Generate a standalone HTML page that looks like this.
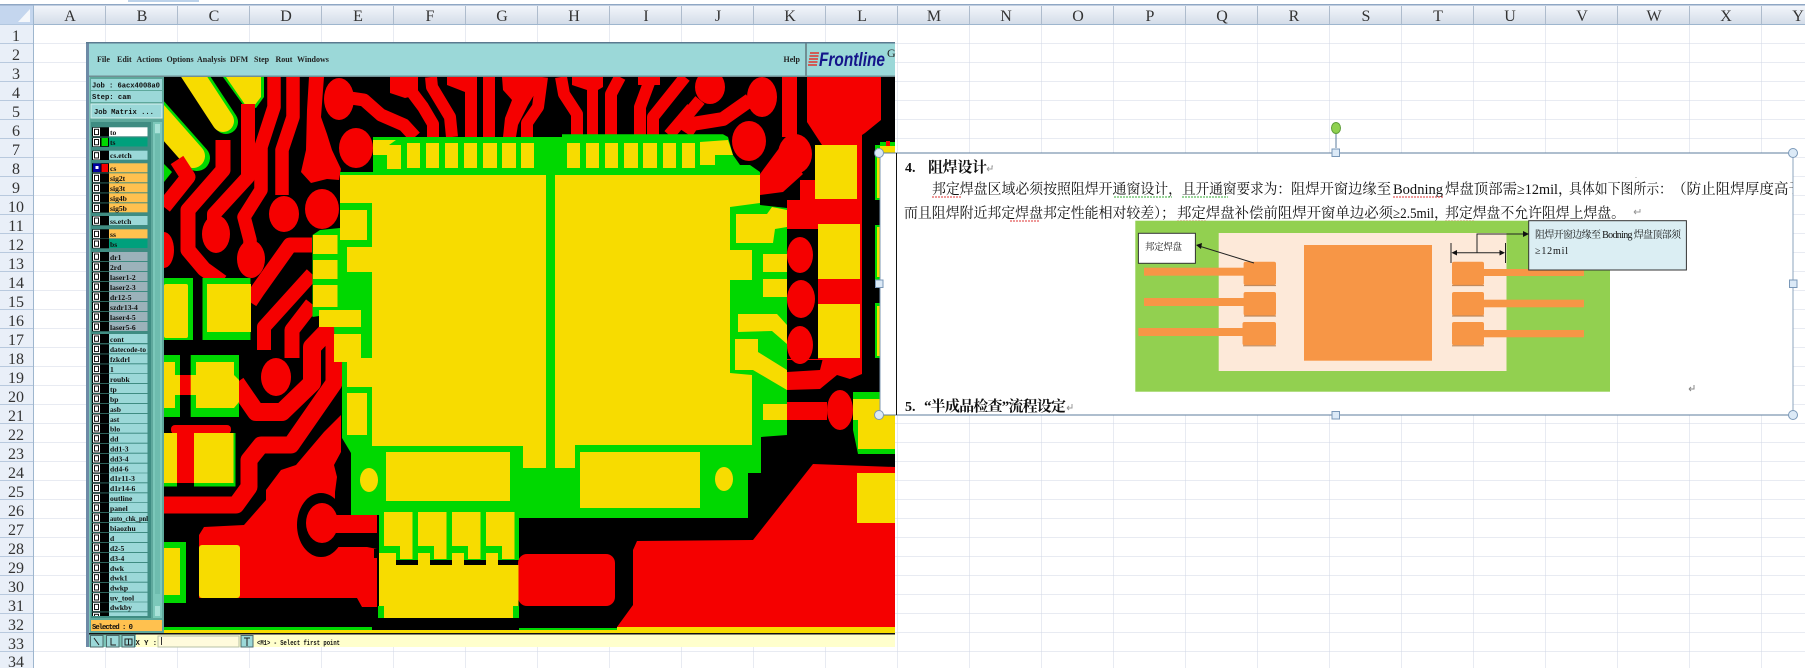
<!DOCTYPE html>
<html><head><meta charset="utf-8"><title>PCB</title>
<style>
html,body{margin:0;padding:0;background:#fff;width:1805px;height:668px;overflow:hidden}
svg{display:block}
.h{font:16px "Liberation Serif",serif;fill:#333;text-anchor:middle}
.m{font:bold 8px "Liberation Serif",serif;fill:#222}
.l{font:bold 7.6px "Liberation Serif",serif;fill:#111}
.j{font:bold 7.2px "Liberation Mono",monospace;fill:#111}
.cn{font-family:"Liberation Serif","Noto Serif CJK SC",serif;fill:#111}
.r path{fill:none;stroke:#f50000;stroke-linejoin:round;stroke-linecap:butt}
.a{fill:#9bd8d8}.o{fill:#ffc14f}.g{fill:#9cb2ba}.t{fill:#00a07c}.w{fill:#fff}
</style></head><body>
<svg width="1805" height="668" viewBox="0 0 1805 668" xmlns="http://www.w3.org/2000/svg">
<defs>
<linearGradient id="hd" x1="0" y1="0" x2="0" y2="1"><stop offset="0" stop-color="#f3f6fb"/><stop offset="1" stop-color="#d3dce8"/></linearGradient>
<pattern id="gr" x="33.5" y="24.5" width="72" height="19" patternUnits="userSpaceOnUse"><path d="M72 0V19M0 19H72" stroke="#d0d7e5" stroke-width="1" fill="none"/></pattern>
<clipPath id="bd"><rect x="164" y="77" width="731" height="557"/></clipPath>
<clipPath id="ls"><rect x="90" y="125" width="60" height="491"/></clipPath>
<clipPath id="tb"><rect x="880" y="153" width="913" height="262"/></clipPath>
<g id="c"><rect x="92" y="0" width="17" height="9.3" fill="#000"/><rect x="93" y="0.5" width="7" height="8.3" fill="#fff"/><rect x="94.5" y="2" width="4" height="5.3" fill="#fff" stroke="#111" stroke-width="1"/></g>
</defs>
<!-- sheet -->
<rect width="1805" height="668" fill="#fff"/>
<rect x="33.5" y="24.5" width="1772" height="644" fill="url(#gr)"/>
<rect width="1805" height="5" fill="#fff"/>
<rect x="128" y="0" width="71" height="2" fill="#bcd2ea"/>
<rect y="4" width="1805" height="1.5" fill="#8fa7c4"/>
<rect x="0" y="5.5" width="1805" height="19" fill="url(#hd)"/>
<rect x="0" y="24" width="1805" height="1" fill="#9eb6ce"/>
<rect x="0" y="5.5" width="33.5" height="19" fill="#c4d6ee"/>
<polygon points="30,9 30,22 18,22" fill="#f4f7fb"/>
<rect x="0" y="25" width="33.5" height="643" fill="#e9eff8"/>
<rect x="33" y="5" width="1" height="663" fill="#9eb6ce"/>
<path d="M105.5 6V24M177.5 6V24M249.5 6V24M321.5 6V24M393.5 6V24M465.5 6V24M537.5 6V24M609.5 6V24M681.5 6V24M753.5 6V24M825.5 6V24M897.5 6V24M969.5 6V24M1041.5 6V24M1113.5 6V24M1185.5 6V24M1257.5 6V24M1329.5 6V24M1401.5 6V24M1473.5 6V24M1545.5 6V24M1617.5 6V24M1689.5 6V24M1761.5 6V24" stroke="#aebccd"/>
<path d="M0 43.5H33M0 62.5H33M0 81.5H33M0 100.5H33M0 119.5H33M0 138.5H33M0 157.5H33M0 176.5H33M0 195.5H33M0 214.5H33M0 233.5H33M0 252.5H33M0 271.5H33M0 290.5H33M0 309.5H33M0 328.5H33M0 347.5H33M0 366.5H33M0 385.5H33M0 404.5H33M0 423.5H33M0 442.5H33M0 461.5H33M0 480.5H33M0 499.5H33M0 518.5H33M0 537.5H33M0 556.5H33M0 575.5H33M0 594.5H33M0 613.5H33M0 632.5H33M0 651.5H33" stroke="#b8c9de"/>
<g class="h">
<text x="70" y="21">A</text><text x="142" y="21">B</text><text x="214" y="21">C</text><text x="286" y="21">D</text><text x="358" y="21">E</text><text x="430" y="21">F</text><text x="502" y="21">G</text><text x="574" y="21">H</text><text x="646" y="21">I</text><text x="718" y="21">J</text><text x="790" y="21">K</text><text x="862" y="21">L</text><text x="934" y="21">M</text><text x="1006" y="21">N</text><text x="1078" y="21">O</text><text x="1150" y="21">P</text><text x="1222" y="21">Q</text><text x="1294" y="21">R</text><text x="1366" y="21">S</text><text x="1438" y="21">T</text><text x="1510" y="21">U</text><text x="1582" y="21">V</text><text x="1654" y="21">W</text><text x="1726" y="21">X</text><text x="1798" y="21">Y</text>
<text x="16" y="41">1</text><text x="16" y="60">2</text><text x="16" y="79">3</text><text x="16" y="98">4</text><text x="16" y="117">5</text><text x="16" y="136">6</text><text x="16" y="155">7</text><text x="16" y="174">8</text><text x="16" y="193">9</text><text x="16" y="212">10</text><text x="16" y="231">11</text><text x="16" y="250">12</text><text x="16" y="269">13</text><text x="16" y="288">14</text><text x="16" y="307">15</text><text x="16" y="326">16</text><text x="16" y="345">17</text><text x="16" y="364">18</text><text x="16" y="383">19</text><text x="16" y="402">20</text><text x="16" y="421">21</text><text x="16" y="440">22</text><text x="16" y="459">23</text><text x="16" y="478">24</text><text x="16" y="497">25</text><text x="16" y="516">26</text><text x="16" y="535">27</text><text x="16" y="554">28</text><text x="16" y="573">29</text><text x="16" y="592">30</text><text x="16" y="611">31</text><text x="16" y="630">32</text><text x="16" y="649">33</text><text x="16" y="667">34</text>
</g>
<!-- window frame -->
<rect x="86" y="42" width="809" height="605" fill="#6d8aa6"/>
<rect x="89" y="43" width="806" height="604" fill="#7cc4b8"/>
<rect x="89" y="43" width="716" height="33" fill="#9bd8d8"/>
<rect x="805" y="43" width="2" height="33" fill="#6f8f93"/>
<rect x="807" y="43" width="88" height="33" fill="#9bd8d8"/>
<rect x="89" y="75.5" width="806" height="1.5" fill="#6f8f93"/>
<rect x="86" y="42" width="809" height="1.5" fill="#5b7a90"/>
<g class="m">
<text x="97" y="62">File</text><text x="117" y="62">Edit</text><text x="136.5" y="62">Actions</text><text x="166.5" y="62">Options</text><text x="197" y="62">Analysis</text><text x="230" y="62">DFM</text><text x="254" y="62">Step</text><text x="275.5" y="62">Rout</text><text x="297" y="62">Windows</text><text x="783.5" y="62">Help</text>
</g>
<path d="M810 53h9M809.5 56h9M809 59h9M808.5 62h9M808 65h9" stroke="#e2332b" stroke-width="1.6"/>
<text x="819" y="66" font-family="Liberation Sans,sans-serif" font-weight="bold" font-style="italic" font-size="19" fill="#14148a" textLength="66" lengthAdjust="spacingAndGlyphs">Frontline</text>
<text x="887" y="57" font-family="Liberation Serif,serif" font-size="12" fill="#222">G</text>
<!-- left panel -->
<rect x="90" y="77" width="74" height="543" fill="#5ea89c"/>
<rect x="91" y="79" width="71" height="11" class="a"/><rect x="91" y="91" width="71" height="11" class="a"/><rect x="91" y="104" width="71" height="14" class="a" stroke="#d5efee" stroke-width="1"/>
<text x="92" y="87.5" class="j" textLength="68">Job : 6acx4008a0</text>
<text x="92" y="99" class="j">Step: cam</text>
<text x="94" y="114" class="j" font-size="8" textLength="60">Job Matrix ...</text>
<rect x="91" y="122" width="60" height="496" fill="#3f8c82"/>
<rect x="153" y="122" width="9" height="496" fill="#7cc8ba"/>
<rect x="155" y="124" width="5" height="9" fill="#a9e2d8"/><rect x="155" y="606" width="5" height="10" fill="#a9e2d8"/><rect x="155" y="134" width="5" height="460" fill="#6ebcae"/>
<g clip-path="url(#ls)">
<use href="#c" y="127.3"/><rect x="109" y="127.3" width="38.5" height="9" class="w"/><text x="110" y="135" class="l">to</text>
<use href="#c" y="137.5"/><rect x="109" y="137.5" width="38.5" height="9" class="t"/><rect x="101.5" y="138" width="6.5" height="8" fill="#00d800"/><text x="110" y="145" class="l">ts</text>
<use href="#c" y="150.7"/><rect x="109" y="150.7" width="38.5" height="9" class="a"/><text x="110" y="158" class="l">cs.etch</text>
<use href="#c" y="163.3"/><rect x="109" y="163.3" width="38.5" height="9" class="o"/><rect x="93" y="163.5" width="7.5" height="8.5" fill="#0000a0"/><rect x="95.5" y="166" width="3" height="3" fill="#fff"/><rect x="101.5" y="164" width="6.5" height="8" fill="#f50000"/><text x="110" y="171" class="l">cs</text>
<use href="#c" y="173.3"/><rect x="109" y="173.3" width="38.5" height="9" class="o"/><text x="110" y="181" class="l">sig2t</text>
<use href="#c" y="183.3"/><rect x="109" y="183.3" width="38.5" height="9" class="o"/><text x="110" y="191" class="l">sig3t</text>
<use href="#c" y="193.3"/><rect x="109" y="193.3" width="38.5" height="9" class="o"/><text x="110" y="201" class="l">sig4b</text>
<use href="#c" y="203.3"/><rect x="109" y="203.3" width="38.5" height="9" class="o"/><text x="110" y="211" class="l">sig5b</text>
<use href="#c" y="216"/><rect x="109" y="216" width="38.5" height="9" class="a"/><text x="110" y="224" class="l">ss.etch</text>
<use href="#c" y="229.3"/><rect x="109" y="229.3" width="38.5" height="9" class="o"/><text x="110" y="237" class="l">ss</text>
<use href="#c" y="239"/><rect x="109" y="239" width="38.5" height="9" class="t"/><text x="110" y="247" class="l">bs</text>
<use href="#c" y="252"/><rect x="109" y="252" width="38.5" height="9" class="g"/><text x="110" y="260" class="l">dr1</text>
<use href="#c" y="262"/><rect x="109" y="262" width="38.5" height="9" class="g"/><text x="110" y="270" class="l">2rd</text>
<use href="#c" y="272"/><rect x="109" y="272" width="38.5" height="9" class="g"/><text x="110" y="280" class="l">laser1-2</text>
<use href="#c" y="282"/><rect x="109" y="282" width="38.5" height="9" class="g"/><text x="110" y="290" class="l">laser2-3</text>
<use href="#c" y="292"/><rect x="109" y="292" width="38.5" height="9" class="g"/><text x="110" y="300" class="l">dr12-5</text>
<use href="#c" y="302"/><rect x="109" y="302" width="38.5" height="9" class="g"/><text x="110" y="310" class="l">szdr13-4</text>
<use href="#c" y="312"/><rect x="109" y="312" width="38.5" height="9" class="g"/><text x="110" y="320" class="l">laser4-5</text>
<use href="#c" y="322"/><rect x="109" y="322" width="38.5" height="9" class="g"/><text x="110" y="330" class="l">laser5-6</text>
<use href="#c" y="334"/><rect x="109" y="334" width="38.5" height="9" class="a"/><text x="110" y="342" class="l">cont</text>
<use href="#c" y="344.3"/><rect x="109" y="344.3" width="38.5" height="9" class="a"/><text x="110" y="352" class="l" textLength="36" lengthAdjust="spacingAndGlyphs">datecode-to</text>
<use href="#c" y="354.3"/><rect x="109" y="354.3" width="38.5" height="9" class="a"/><text x="110" y="362" class="l">fzkdrl</text>
<use href="#c" y="364.3"/><rect x="109" y="364.3" width="38.5" height="9" class="a"/><text x="110" y="372" class="l">1</text>
<use href="#c" y="374"/><rect x="109" y="374" width="38.5" height="9" class="a"/><text x="110" y="382" class="l">roubk</text>
<use href="#c" y="384"/><rect x="109" y="384" width="38.5" height="9" class="a"/><text x="110" y="392" class="l">tp</text>
<use href="#c" y="394"/><rect x="109" y="394" width="38.5" height="9" class="a"/><text x="110" y="402" class="l">bp</text>
<use href="#c" y="404"/><rect x="109" y="404" width="38.5" height="9" class="a"/><text x="110" y="412" class="l">asb</text>
<use href="#c" y="414"/><rect x="109" y="414" width="38.5" height="9" class="a"/><text x="110" y="422" class="l">ast</text>
<use href="#c" y="423.7"/><rect x="109" y="423.7" width="38.5" height="9" class="a"/><text x="110" y="431.5" class="l">blo</text>
<use href="#c" y="433.7"/><rect x="109" y="433.7" width="38.5" height="9" class="a"/><text x="110" y="441.5" class="l">dd</text>
<use href="#c" y="443.7"/><rect x="109" y="443.7" width="38.5" height="9" class="a"/><text x="110" y="451.5" class="l">dd1-3</text>
<use href="#c" y="453.7"/><rect x="109" y="453.7" width="38.5" height="9" class="a"/><text x="110" y="461.5" class="l">dd3-4</text>
<use href="#c" y="463.7"/><rect x="109" y="463.7" width="38.5" height="9" class="a"/><text x="110" y="471.5" class="l">dd4-6</text>
<use href="#c" y="473.3"/><rect x="109" y="473.3" width="38.5" height="9" class="a"/><text x="110" y="481" class="l">d1r11-3</text>
<use href="#c" y="483.3"/><rect x="109" y="483.3" width="38.5" height="9" class="a"/><text x="110" y="491" class="l">d1r14-6</text>
<use href="#c" y="493.3"/><rect x="109" y="493.3" width="38.5" height="9" class="a"/><text x="110" y="501" class="l">outline</text>
<use href="#c" y="503"/><rect x="109" y="503" width="38.5" height="9" class="a"/><text x="110" y="511" class="l">panel</text>
<use href="#c" y="513"/><rect x="109" y="513" width="38.5" height="9" class="a"/><text x="110" y="521" class="l" textLength="38" lengthAdjust="spacingAndGlyphs">auto_chk_pnl</text>
<use href="#c" y="523"/><rect x="109" y="523" width="38.5" height="9" class="a"/><text x="110" y="531" class="l">biaozhu</text>
<use href="#c" y="533"/><rect x="109" y="533" width="38.5" height="9" class="a"/><text x="110" y="541" class="l">d</text>
<use href="#c" y="543"/><rect x="109" y="543" width="38.5" height="9" class="a"/><text x="110" y="551" class="l">d2-5</text>
<use href="#c" y="553"/><rect x="109" y="553" width="38.5" height="9" class="a"/><text x="110" y="561" class="l">d3-4</text>
<use href="#c" y="563"/><rect x="109" y="563" width="38.5" height="9" class="a"/><text x="110" y="571" class="l">dwk</text>
<use href="#c" y="572.7"/><rect x="109" y="572.7" width="38.5" height="9" class="a"/><text x="110" y="580.5" class="l">dwk1</text>
<use href="#c" y="582.7"/><rect x="109" y="582.7" width="38.5" height="9" class="a"/><text x="110" y="590.5" class="l">dwkp</text>
<use href="#c" y="592.7"/><rect x="109" y="592.7" width="38.5" height="9" class="a"/><text x="110" y="600.5" class="l">uv_tool</text>
<use href="#c" y="602.3"/><rect x="109" y="602.3" width="38.5" height="9" class="a"/><text x="110" y="610" class="l">dwkby</text>
<use href="#c" y="612.3"/><rect x="109" y="612.3" width="38.5" height="9" class="a"/>
</g>
<rect x="90" y="618" width="74" height="16" fill="#5ea89c"/>
<rect x="91" y="620" width="71" height="11" class="o"/>
<text x="92" y="629" class="j" textLength="41">Selected : 0</text>
<!-- board -->
<g clip-path="url(#bd)">
<rect x="164" y="77" width="731" height="557" fill="#000"/>
<!-- top-left pills -->
<g fill="none" stroke-linecap="round">
<path d="M193 72L226 122" stroke="#00d800" stroke-width="24"/>
<path d="M191 72L223 121" stroke="#f7dc00" stroke-width="22"/>
<path d="M150 105L197 158" stroke="#00d800" stroke-width="26"/>
<path d="M148 105L193 156" stroke="#f7dc00" stroke-width="24"/>
</g>
<polygon points="223,77 264,77 264,97 256,108 244,106" fill="#00d800"/>
<polygon points="226,77 261,77 261,97 254,106 246,106" fill="#f7dc00"/>
<polygon points="164,164 172,172 164,182" fill="#00d800"/>
<!-- red traces -->
<g class="r">
<path d="M177 160L188 177L164 207" stroke-width="15"/>
<path d="M223 140V170L188 210V250L204 269L222 282" stroke-width="15"/>
<path d="M248 104V177L214 214V232" stroke-width="14"/>
<path d="M274 77V107L261 147V190L244 217L250 240V255" stroke-width="13.5"/>
<path d="M293 77V117L282 150V195" stroke-width="13.5"/>
<path d="M344 97L364 100L381 115L404 125L415 137" stroke-width="13"/>
<path d="M312 245H290L258 290L250 302" stroke-width="15"/>
<path d="M312 274L264 327V350" stroke-width="14"/>
<path d="M312 304L292 330V358" stroke-width="15"/>
<path d="M334 324L312 347V383L282 412H256L236 383" stroke-width="18"/>
<path d="M334 335V383L291 445H261L249 460V487L236 505H164" stroke-width="17"/>
<path d="M408 87L423 107L433 124V137" stroke-width="12"/>
<path d="M431 77L432 87L450 117L452 137" stroke-width="12"/>
<path d="M489 77V137" stroke-width="12"/>
<path d="M542 77L538 107L527 123V137" stroke-width="12"/>
<path d="M561 77L564 94L577 114V135" stroke-width="12"/>
<path d="M620 77L611 94V135" stroke-width="12"/>
<path d="M650 80L640 107V135" stroke-width="12"/>
<path d="M685 77L653 117V135" stroke-width="12"/>
<path d="M692 108L669 135" stroke-width="12"/>
<path d="M700 100L680 124" stroke-width="12"/>
<path d="M686 133L692 124L723 119L750 100" stroke-width="14"/>
</g>
<g fill="#f50000">
<polygon points="309,77 324,77 321,117 327,134 332,150 341,169 339,180 327,179 311,183 301,172 306,150 307,110"/>
<polygon points="390,77 418,77 418,95 405,98 390,93"/>
<polygon points="447,77 477,77 477,137 465,137 465,92 447,85"/>
<polygon points="502,77 538,77 537,90 528,105 518,125 516,137 503,137 505,118 512,100 503,90"/>
<polygon points="572,77 603,77 603,87 598,90 598,135 587,135 587,90 572,85"/>
<rect x="638" y="77" width="22" height="8"/>
<ellipse cx="339" cy="99" rx="15" ry="21"/><ellipse cx="356" cy="148" rx="17" ry="20"/>
<ellipse cx="322" cy="209" rx="17" ry="20"/><ellipse cx="164" cy="250" rx="10" ry="18"/>
<ellipse cx="216" cy="234" rx="14" ry="19"/><ellipse cx="251" cy="259" rx="14" ry="19"/><ellipse cx="284" cy="214" rx="15" ry="18"/>
<ellipse cx="276" cy="377" rx="15" ry="19"/>
<ellipse cx="710" cy="87" rx="15" ry="17"/><ellipse cx="762" cy="97" rx="15" ry="20"/><ellipse cx="749" cy="141" rx="17" ry="20"/>
<rect x="782" y="77" width="15" height="60"/>
<ellipse cx="795" cy="154" rx="17" ry="20"/>
<polygon points="760,174 780,147 803,174 783,192 760,195"/>
<polygon points="807,77 881,77 881,120 865,133 862,135 862,360 787,360 787,200 800,200 800,180 822,180 822,145 807,122"/>
<ellipse cx="800" cy="255" rx="13" ry="18"/><ellipse cx="801" cy="299" rx="14" ry="19"/><ellipse cx="800" cy="345" rx="13" ry="19"/>
</g>
<!-- black halo round circles -->
<rect x="787" y="229" width="31" height="130" fill="#000"/>
<rect x="823" y="224" width="0" height="0" fill="#000"/>
<g fill="#f50000">
<ellipse cx="800" cy="255" rx="13" ry="18"/><ellipse cx="801" cy="299" rx="14" ry="19"/><ellipse cx="800" cy="345" rx="13" ry="19"/>
<rect x="818" y="279" width="44" height="25"/>
<polygon points="787,372 820,370 823,358 862,358 862,374 850,379 837,375 820,389 787,390 785,380"/>
<rect x="787" y="402" width="40" height="18"/><ellipse cx="840" cy="410" rx="13" ry="20"/>
<polygon points="813,464 895,467 895,627 617,627 633,605 633,550 637,541 753,540"/>
<rect x="518" y="554" width="97" height="52" rx="9"/>
<polygon points="341,415 324,432 296,465 281,470 266,490 266,500 244,525 204,527 199,535 199,598 357,598 362,607 377,607 377,549 367,547 335,547 335,492 337,477 334,465 341,452"/>
<ellipse cx="515" cy="0" rx="0" ry="0"/>
<rect x="171" y="425" width="60" height="9" rx="4"/><rect x="177" y="433" width="17" height="50"/><rect x="180" y="375" width="11" height="20"/>
</g>
<!-- connector halo -->
<ellipse cx="321" cy="525" rx="24" ry="32" fill="#000"/>
<ellipse cx="322" cy="523" rx="16" ry="20" fill="#f50000"/>
<rect x="330" y="515" width="47" height="18" fill="#f50000"/>
<rect x="374" y="549" width="5" height="9" fill="#000"/>
<!-- green -->
<g fill="#00d800">
<polygon points="373,137 562,137 562,134.3 723,134.3 728,137 733,155 740,165 750,165 760,172 760,205 787,208 787,435 761,437 761,473 748,473 748,518 519,518 519,560 379,560 379,515 351,515 351,453 342,438 342,362 335,362 334,325 319,316 312.5,317 312.5,235 320,230 340,228 340,172 373,172"/>
<rect x="378" y="606" width="141" height="12"/>
<rect x="164" y="355" width="16" height="20"/><rect x="164" y="395" width="16" height="22"/><rect x="190.7" y="355" width="48.3" height="20"/><rect x="190.7" y="395" width="48.3" height="22"/><rect x="234" y="355" width="5" height="62"/>
<rect x="164" y="483" width="13" height="3.5"/><rect x="194" y="483" width="41.5" height="3.5"/><rect x="233.5" y="433" width="2" height="53"/>
<rect x="164" y="542" width="22" height="61"/>
<rect x="164" y="278" width="29" height="62"/><rect x="202.5" y="278" width="48" height="62"/>
<rect x="875" y="145" width="5" height="55"/><rect x="875" y="225" width="5" height="55"/><rect x="875" y="303" width="5" height="55"/>
<rect x="880" y="142" width="15" height="12"/>
<polygon points="853,392 895,392 895,454 858,454 853,430"/>
<rect x="164" y="627" width="208" height="3"/><rect x="519" y="628" width="98" height="3"/>
</g>
<!-- yellow -->
<g fill="#f7dc00">
<polygon points="340,175 546,175 546,468 523,468 523,446 372,446 372,203 340,203"/>
<rect x="340" y="210" width="27" height="30"/>
<rect x="347" y="247" width="26" height="25"/>
<polygon points="555,175 760,175 760,203 730,207 730,250 752,250 752,280 730,280 730,373 752,375 752,445 575,445 575,468 555,468"/>
<rect x="313" y="235" width="24.5" height="19"/><rect x="313" y="260" width="24.5" height="19"/><rect x="313" y="285" width="24.5" height="22"/><rect x="319" y="310" width="42" height="17"/>
<rect x="334" y="334" width="27" height="28"/><rect x="347" y="358" width="26" height="29"/><rect x="347" y="393" width="20" height="42"/>
<rect x="407" y="143" width="13" height="25"/><rect x="426" y="143" width="13" height="25"/><rect x="445" y="143" width="13" height="25"/><rect x="464" y="143" width="13" height="25"/><rect x="483" y="143" width="14" height="25"/><rect x="502" y="143" width="14" height="25"/><rect x="521" y="143" width="13" height="25"/><rect x="567" y="143" width="13" height="25"/><rect x="586" y="143" width="13" height="25"/><rect x="605" y="143" width="13" height="25"/><rect x="624" y="143" width="14" height="25"/><rect x="643" y="143" width="14" height="25"/><rect x="663" y="143" width="13" height="25"/><rect x="682" y="143" width="13" height="25"/>
<polygon points="373,140 396,140 389,145 401,145 401,169 387,169 387,155 373,155"/>
<polygon points="700,142 728,140 733,155 715,155 715,165 700,165"/>
<polygon points="736,214 767,214 772,207 787,210 787,227 775,229 773,243 736,243"/>
<rect x="763" y="254" width="24" height="18"/><rect x="763" y="279" width="24" height="18"/>
<polygon points="738,314 777,314 787,325 787,344 772,331 738,332"/>
<polygon points="735,339 758,339 758,352 787,370 787,390 753,370 735,370"/>
<rect x="763" y="404" width="24" height="16"/>
<rect x="386" y="452" width="124" height="49"/><rect x="580" y="452" width="120" height="56"/>
<rect x="500" y="452" width="10" height="49"/>
<rect x="384" y="512" width="28.5" height="34"/><rect x="400" y="546" width="12.5" height="13"/>
<rect x="418" y="512" width="28.5" height="34"/><rect x="434" y="546" width="12.5" height="13"/>
<rect x="452" y="512" width="28.5" height="34"/><rect x="468" y="546" width="12.5" height="13"/>
<rect x="486" y="512" width="28.5" height="34"/><rect x="502" y="546" width="12.5" height="13"/>
<rect x="384" y="565" width="129" height="53"/><rect x="379" y="553" width="17" height="53"/><rect x="418" y="553" width="12" height="13"/><rect x="452" y="553" width="12" height="13"/><rect x="486" y="553" width="12" height="13"/>
<rect x="379" y="565" width="139.5" height="41"/>
<rect x="815" y="145" width="42" height="54"/><rect x="818" y="224" width="42" height="55"/><rect x="818" y="304" width="42" height="54"/>
<rect x="877" y="148" width="3" height="50"/><rect x="877" y="227" width="3" height="50"/><rect x="877" y="306" width="3" height="50"/>
<rect x="880" y="146" width="15" height="8"/>
<polygon points="853,399 895,399 895,449 858,449 858,420 853,420"/>
<rect x="857" y="473" width="38" height="50"/>
<rect x="164" y="362" width="11" height="13"/><rect x="164" y="375" width="16" height="20"/><rect x="164" y="395" width="11" height="13"/>
<rect x="196" y="362" width="38" height="46"/><rect x="190.7" y="375" width="6" height="20"/>
<polygon points="234,375 239,380 239,402 234,408"/>
<rect x="164" y="433" width="13" height="50"/><rect x="194" y="433" width="39.5" height="50"/>
<rect x="164" y="548" width="16" height="47"/><rect x="199" y="545" width="41" height="53" rx="3"/>
<rect x="164" y="284" width="24" height="54" rx="2"/><rect x="207" y="284" width="44" height="48"/>
<rect x="164" y="630" width="731" height="3"/><rect x="617" y="627" width="278" height="3"/>
<ellipse cx="369" cy="480" rx="9" ry="12"/><ellipse cx="724" cy="479" rx="9" ry="12"/>
</g>
<rect x="886" y="141" width="4" height="5" fill="#f50000"/>
</g>
<!-- status bar -->
<rect x="89" y="633" width="806" height="1.5" fill="#111"/>
<rect x="89" y="634.5" width="47" height="12.5" fill="#7cc4b8"/>
<rect x="136" y="634.5" width="759" height="12.5" fill="#ffffcc"/>
<rect x="90.5" y="635.5" width="12.5" height="11.5" fill="#9bd8d8" stroke="#4c6b6b"/><rect x="106.5" y="635.5" width="12.5" height="11.5" fill="#9bd8d8" stroke="#4c6b6b"/><rect x="122" y="635.5" width="12.5" height="11.5" fill="#9bd8d8" stroke="#4c6b6b"/>
<path d="M94 638l5 7M111 638v7h5M125 639h7v6h-7zM128.5 639v6" stroke="#222" fill="none"/>
<text x="135.5" y="645" class="j">X Y :</text>
<rect x="158" y="636" width="81" height="11" fill="#fffbdc" stroke="#b7c2a6"/>
<rect x="161" y="637" width="1" height="8" fill="#333"/>
<rect x="241" y="635.5" width="12" height="11.5" fill="#9bd8d8" stroke="#4c6b6b"/>
<path d="M247 638v8M244 638h6" stroke="#222"/>
<text x="257" y="645" class="j" textLength="83" lengthAdjust="spacingAndGlyphs">&lt;M1&gt; - Select first point</text>
<!-- text box -->
<rect x="880" y="153" width="913" height="262" fill="#fff"/>
<path d="M879 153H1793V415H879" fill="none" stroke="#5e7d9e" stroke-width="1"/>
<path d="M1793 153V415" stroke="#8ea5bd"/>
<path d="M880 153V415" stroke="#7b96b2"/>
<path d="M896.5 153V415" stroke="#111"/>
<g clip-path="url(#tb)">
<text x="905" y="172" class="cn" font-size="14" font-weight="bold">4.</text>
<text x="928" y="172" class="cn" font-size="15" font-weight="bold" textLength="59">阻焊设计</text>
<g font-size="14.5" class="cn">
<text x="932" y="194" class="cn" textLength="250" lengthAdjust="spacingAndGlyphs">邦定焊盘区域必须按照阻焊开通窗设计，</text>
<text x="1182" y="194" class="cn" textLength="109" lengthAdjust="spacingAndGlyphs">且开通窗要求为：</text>
<text x="1291" y="194" class="cn" textLength="100" lengthAdjust="spacingAndGlyphs">阻焊开窗边缘至</text>
<text x="1393" y="194" class="cn" textLength="50" lengthAdjust="spacingAndGlyphs">Bodning</text>
<text x="1445" y="194" class="cn" textLength="72" lengthAdjust="spacingAndGlyphs">焊盘顶部需</text>
<text x="1517" y="194" class="cn" textLength="41" lengthAdjust="spacingAndGlyphs">≥12mil</text>
<text x="1558" y="194" class="cn">，</text>
<text x="1569" y="194" class="cn" textLength="103" lengthAdjust="spacingAndGlyphs">具体如下图所示：</text>
<text x="1672" y="194" class="cn" textLength="131" lengthAdjust="spacingAndGlyphs">（防止阻焊厚度高于</text>
<text x="904" y="218" class="cn" textLength="271" lengthAdjust="spacingAndGlyphs">而且阻焊附近邦定焊盘邦定性能相对较差）；</text>
<text x="1177" y="218" class="cn" textLength="216" lengthAdjust="spacingAndGlyphs">邦定焊盘补偿前阻焊开窗单边必须</text>
<text x="1393" y="218" class="cn" textLength="41" lengthAdjust="spacingAndGlyphs">≥2.5mil</text>
<text x="1434" y="218" class="cn">，</text>
<text x="1445" y="218" class="cn" textLength="180" lengthAdjust="spacingAndGlyphs">邦定焊盘不允许阻焊上焊盘。</text>
</g>
<text x="905" y="411" class="cn" font-size="14" font-weight="bold">5.</text>
<text x="924" y="411" class="cn" font-size="15" font-weight="bold" textLength="142">“半成品检查”流程设定</text>
<path d="M993 166h-1v3h-5M987 169l2-2M987 169l2 2M1636 178v-1M1640 209v3h-6M1634 212l2-2M1634 212l2 2M1072 404v4h-5M1067 408l2-2M1067 408l2 2" stroke="#999" fill="none"/>
<path d="M932 197h29M1393 197h50M1010 221h29M1177 221h29M1445 221h29M1553 221h29" stroke="#d33" stroke-dasharray="2 1" fill="none"/>
<path d="M1114 197h58M1182 197h46" stroke="#3a3" stroke-dasharray="2 1" fill="none"/>
</g>
<!-- inner figure -->
<rect x="1135.3" y="220.7" width="474.7" height="171" fill="#92d050"/>
<rect x="1218.7" y="233" width="287.8" height="138" fill="#fde9d9"/>
<rect x="1304" y="245" width="128" height="115.7" fill="#f79646"/>
<g fill="#f79646">
<rect x="1144" y="267.7" width="100" height="8"/><rect x="1144" y="298" width="100" height="8"/><rect x="1138.4" y="328" width="105" height="8"/>
<rect x="1484" y="269" width="100" height="7"/><rect x="1484" y="299.7" width="100" height="7.6"/><rect x="1484" y="330" width="100" height="7.3"/>
<rect x="1243.6" y="261.7" width="32.4" height="23.3" rx="2"/><rect x="1243.6" y="292" width="32.4" height="23.5" rx="2"/><rect x="1242.5" y="322" width="33.5" height="23.3" rx="2"/>
<rect x="1452" y="261.7" width="32" height="23.3" rx="2"/><rect x="1452" y="292" width="32" height="23.5" rx="2"/><rect x="1452" y="322" width="32" height="23.3" rx="2"/>
</g>
<path d="M1244 285.5h32M1244 316h32M1243 345.8h33M1452 285.5h32M1452 316h32M1452 345.8h32" stroke="#c08a5e" stroke-width="1.2"/>
<rect x="1138.4" y="233.3" width="57" height="30" fill="#fff" stroke="#333"/>
<text x="1145" y="250" class="cn" font-size="9.5" textLength="37">邦定焊盘</text>
<path d="M1254 263L1199 246" stroke="#222"/><polygon points="1196,245 1202,243 1201,249" fill="#111"/>
<rect x="1528.7" y="220.7" width="157.7" height="49.3" fill="#dbeef3" stroke="#333"/>
<text x="1535" y="238" class="cn" font-size="10" textLength="146">阻焊开窗边缘至 Bodning 焊盘顶部须</text>
<text x="1535" y="254" class="cn" font-size="10" textLength="33">≥12mil</text>
<path d="M1451 243V263M1505.5 243V263M1454 252.7H1503M1477 252.7V234H1524" stroke="#222" fill="none"/>
<polygon points="1451.5,252.7 1457,250 1457,255.5" fill="#111"/><polygon points="1505,252.7 1499.5,250 1499.5,255.5" fill="#111"/><polygon points="1529,234 1523,231 1523,237" fill="#111"/>
<path d="M1694 385v4h-5M1689 389l2-2M1689 389l2 2" stroke="#888" fill="none"/>
<!-- handles -->
<path d="M1336 133V148" stroke="#5e7d9e"/>
<ellipse cx="1336" cy="128" rx="4.5" ry="5.5" fill="#8fd14f" stroke="#5f9e3a"/>
<g fill="#dceaf7" stroke="#7a98b8">
<circle cx="879" cy="153" r="4.5"/><circle cx="1793" cy="153" r="4.5"/><circle cx="879" cy="415" r="4.5"/><circle cx="1793" cy="415" r="4.5"/>
<rect x="1332" y="149" width="7.5" height="7.5"/><rect x="1332" y="411.5" width="7.5" height="7.5"/><rect x="875.5" y="280" width="7.5" height="7.5"/><rect x="1789.5" y="280" width="7.5" height="7.5"/>
</g>
</svg>
</body></html>
